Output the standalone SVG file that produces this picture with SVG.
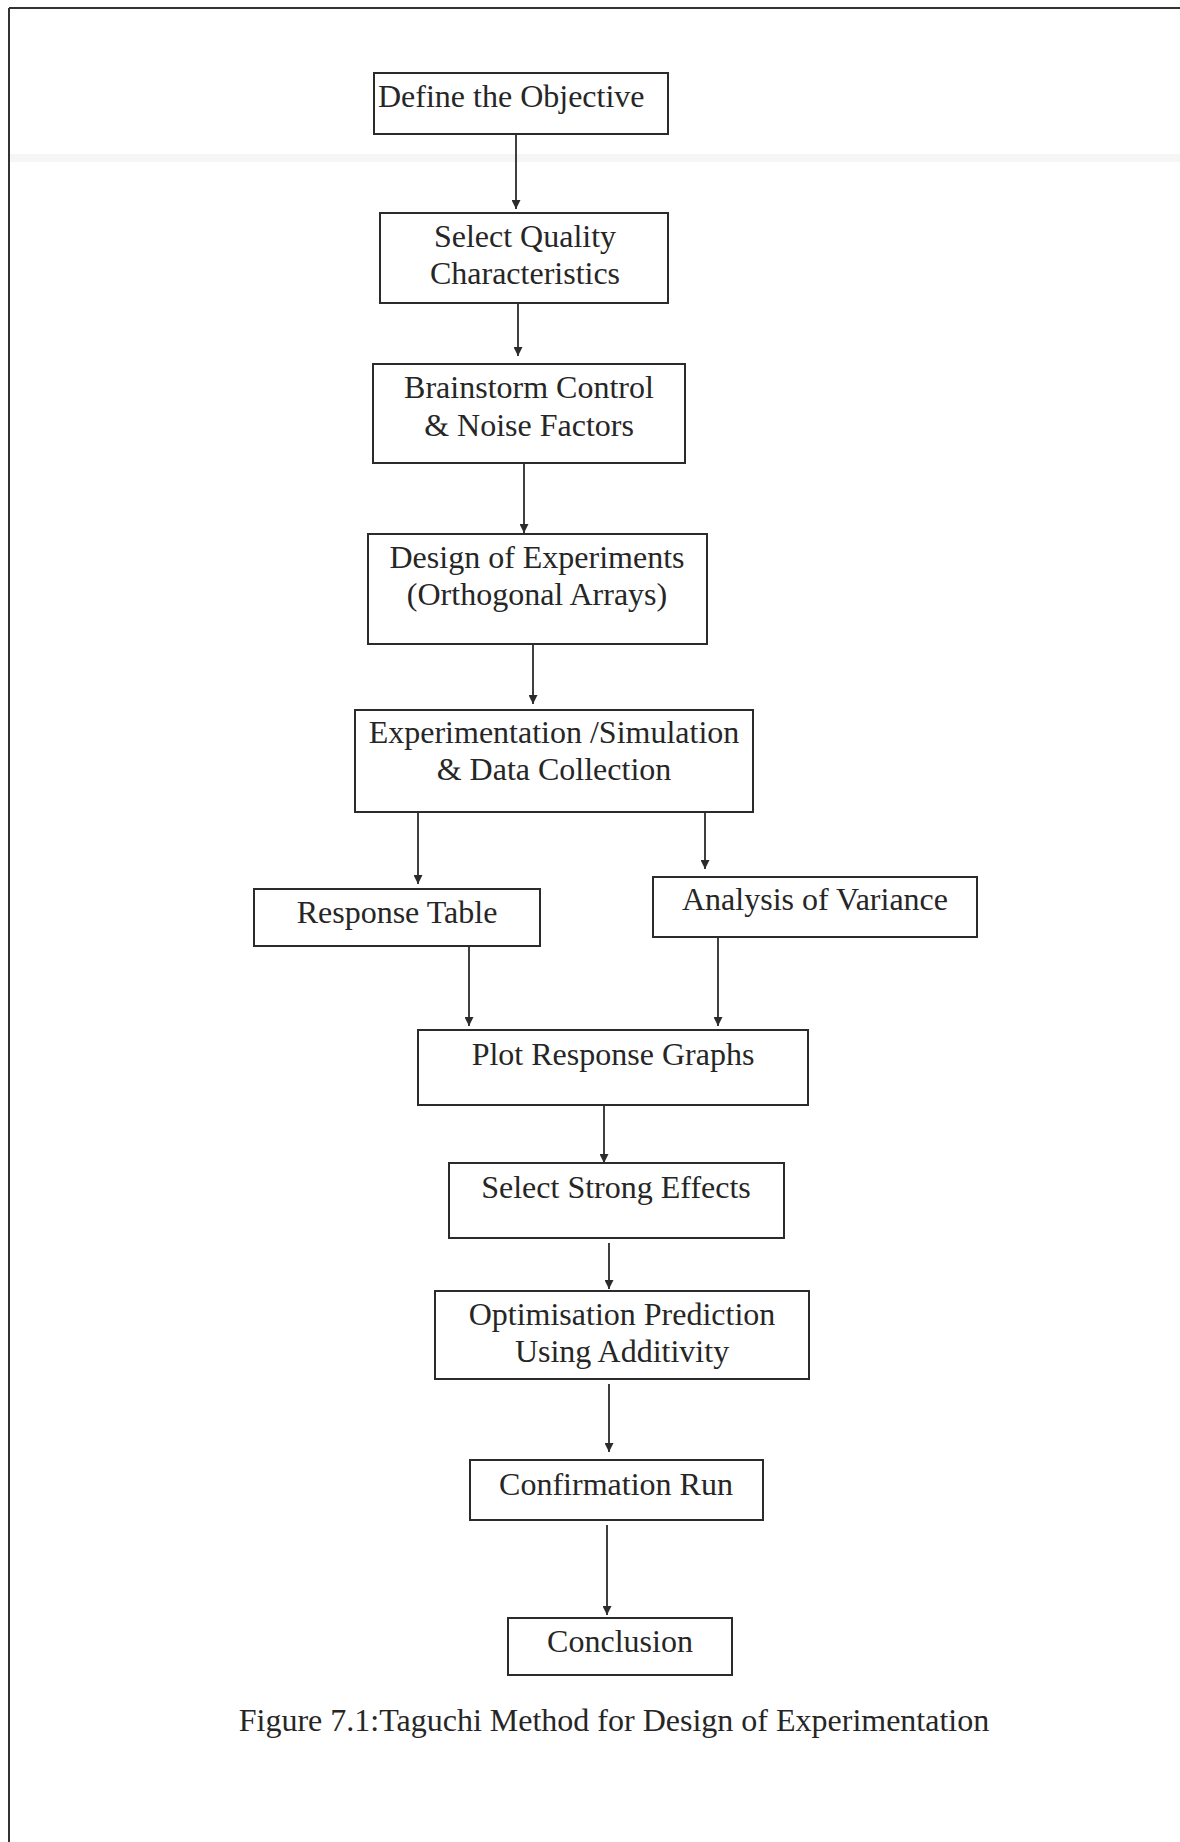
<svg xmlns="http://www.w3.org/2000/svg" width="1180" height="1842" viewBox="0 0 1180 1842">
  <style>
    .box rect { fill: #ffffff; stroke: #2b2b2b; stroke-width: 2; }
    .box text { font-family: "Liberation Serif", "Times New Roman", serif; font-size: 32px; fill: #262626; text-anchor: middle; }
    .edge { stroke: #2b2b2b; stroke-width: 1.8; fill: none; marker-end: url(#head); }
    .caption { font-family: "Liberation Serif", "Times New Roman", serif; font-size: 32px; fill: #262626; text-anchor: middle; }
  </style>
  <defs>
    <marker id="head" viewBox="0 0 10 10" refX="10" refY="5" markerWidth="9" markerHeight="9" markerUnits="userSpaceOnUse" orient="auto">
      <path d="M0,0 L10,5 L0,10 z" fill="#2b2b2b"/>
    </marker>
  </defs>

  <!-- page -->
  <rect x="0" y="0" width="1180" height="1842" fill="#ffffff"/>
  <rect x="10" y="154" width="1170" height="8" fill="#f6f6f6"/>
  <g id="frame" stroke="#333" stroke-width="2" fill="none">
    <line x1="9" y1="8" x2="1180" y2="8"/>
    <line x1="9" y1="8" x2="9" y2="1842"/>
  </g>

  <!-- nodes -->
  <g id="n-objective" class="box">
    <rect x="374" y="73" width="294" height="61"/>
    <text x="378" y="107" style="text-anchor:start">Define the Objective</text>
  </g>
  <g id="n-quality" class="box">
    <rect x="380" y="213" width="288" height="90"/>
    <text x="525" y="247">Select Quality</text>
    <text x="525" y="284">Characteristics</text>
  </g>
  <g id="n-brainstorm" class="box">
    <rect x="373" y="364" width="312" height="99"/>
    <text x="529" y="398">Brainstorm Control</text>
    <text x="529" y="436">&amp; Noise Factors</text>
  </g>
  <g id="n-doe" class="box">
    <rect x="368" y="534" width="339" height="110"/>
    <text x="537" y="568">Design of Experiments</text>
    <text x="537" y="605">(Orthogonal Arrays)</text>
  </g>
  <g id="n-experiment" class="box">
    <rect x="355" y="710" width="398" height="102"/>
    <text x="554" y="743">Experimentation /Simulation</text>
    <text x="554" y="780">&amp; Data Collection</text>
  </g>
  <g id="n-response-table" class="box">
    <rect x="254" y="889" width="286" height="57"/>
    <text x="397" y="923">Response Table</text>
  </g>
  <g id="n-anova" class="box">
    <rect x="653" y="877" width="324" height="60"/>
    <text x="815" y="910">Analysis of Variance</text>
  </g>
  <g id="n-plot" class="box">
    <rect x="418" y="1030" width="390" height="75"/>
    <text x="613" y="1065">Plot Response Graphs</text>
  </g>
  <g id="n-strong" class="box">
    <rect x="449" y="1163" width="335" height="75"/>
    <text x="616" y="1198">Select Strong Effects</text>
  </g>
  <g id="n-optimise" class="box">
    <rect x="435" y="1291" width="374" height="88"/>
    <text x="622" y="1325">Optimisation Prediction</text>
    <text x="622" y="1362">Using Additivity</text>
  </g>
  <g id="n-confirm" class="box">
    <rect x="470" y="1460" width="293" height="60"/>
    <text x="616" y="1495">Confirmation Run</text>
  </g>
  <g id="n-conclusion" class="box">
    <rect x="508" y="1618" width="224" height="57"/>
    <text x="620" y="1652">Conclusion</text>
  </g>

  <!-- connectors -->
  <g id="connectors">
    <line class="edge" x1="516" y1="134" x2="516" y2="209"/>
    <line class="edge" x1="518" y1="303" x2="518" y2="356"/>
    <line class="edge" x1="524" y1="463" x2="524" y2="533"/>
    <line class="edge" x1="533" y1="644" x2="533" y2="704"/>
    <line class="edge" x1="418" y1="812" x2="418" y2="884"/>
    <line class="edge" x1="705" y1="812" x2="705" y2="869"/>
    <line class="edge" x1="469" y1="946" x2="469" y2="1026"/>
    <line class="edge" x1="718" y1="937" x2="718" y2="1026"/>
    <line class="edge" x1="604" y1="1105" x2="604" y2="1163"/>
    <line class="edge" x1="609" y1="1243" x2="609" y2="1289"/>
    <line class="edge" x1="609" y1="1384" x2="609" y2="1452"/>
    <line class="edge" x1="607" y1="1525" x2="607" y2="1615"/>
  </g>

  <text class="caption" x="614" y="1731">Figure 7.1:Taguchi Method for Design of Experimentation</text>
</svg>
